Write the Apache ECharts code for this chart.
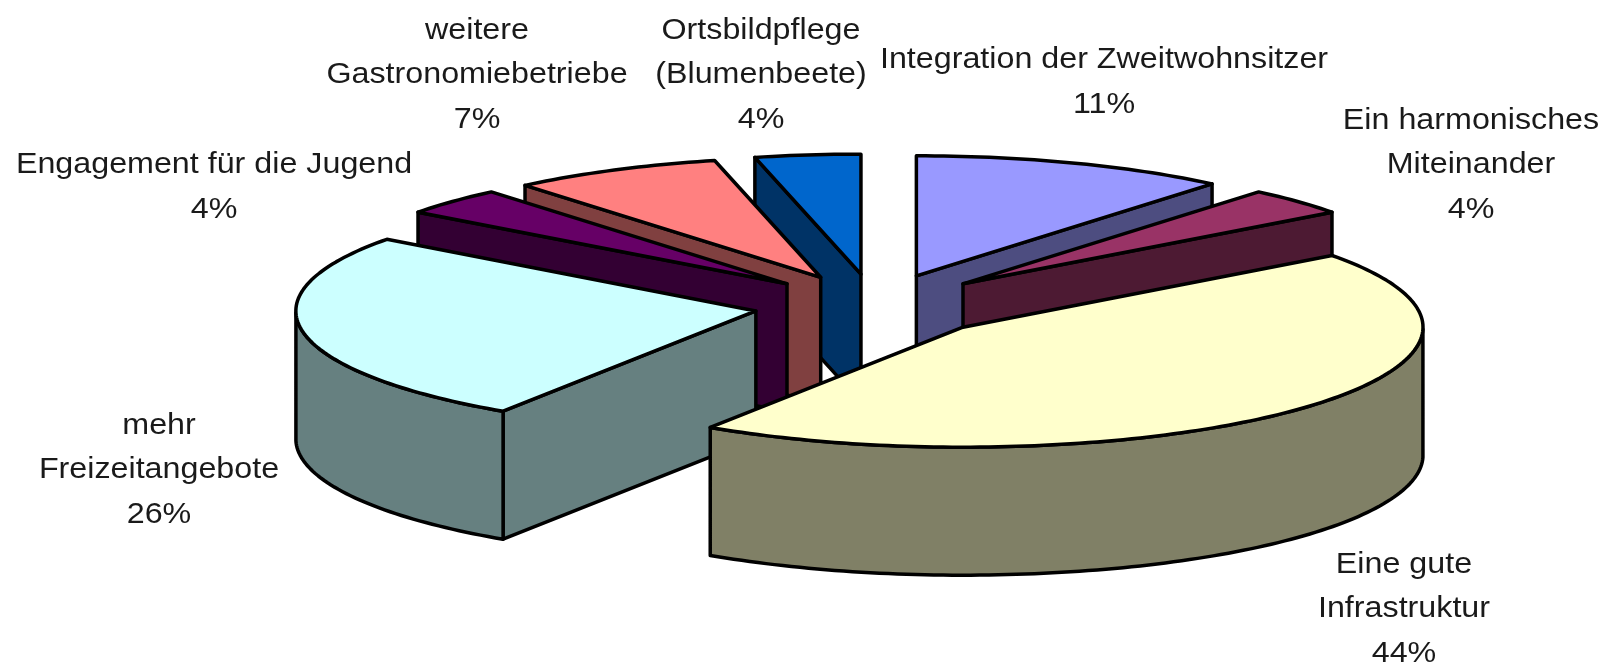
<!DOCTYPE html>
<html><head><meta charset="utf-8">
<style>html,body{margin:0;padding:0;background:#fff}#c{width:1610px;height:667px}</style>
<script src="https://cdn.jsdelivr.net/npm/echarts@6/dist/echarts.min.js"></script>
</head><body><div id="c"></div>
<script>
// Data, in pie order, clockwise from the top (estimated shares; labels show them rounded)
const categories = ['Integration der Zweitwohnsitzer','Ein harmonisches\nMiteinander','Eine gute\nInfrastruktur','mehr\nFreizeitangebote','Engagement für die Jugend','weitere\nGastronomiebetriebe','Ortsbildpflege\n(Blumenbeete)'];
const values = [11.1,3.7,44.4,25.9,3.7,7.4,3.7];
const topColors = ['#9999FF','#993366','#FFFFCC','#CCFFFF','#660066','#FF8080','#0066CC'];
const sideColors = ['#4D4D80','#4D1A33','#808066','#668080','#330033','#804040','#003366'];
// Back-to-front paint order
const paintOrder = [0,1,6,5,4,3,2];
// Label anchors in pixels, by category
const labelX = [1104,1471,1404,159,214,477,761];
const labelY = [82,165,609,470,187,75,75];

const CX=875, CY=305.5, RX=460, RY=120, EXPLODE=0.263, DEPTH=128/120;
const total = values.reduce((a,b)=>a+b,0);
const starts = []; let acc=0;
values.forEach(v=>{starts.push(acc); acc+=v;});
const data = paintOrder.map(i=>[i,starts[i],values[i]]);

function renderSlice(params, api){
  const i=api.value(0);
  const t0=-Math.PI/2+api.value(1)/total*2*Math.PI;
  const t1=t0+api.value(2)/total*2*Math.PI;
  const mid=(t0+t1)/2;
  const ax=EXPLODE*Math.cos(mid), ay=EXPLODE*Math.sin(mid);
  const P=(u,v)=>api.coord([u,v]);
  const rim=t=>[ax+Math.cos(t),ay+Math.sin(t)];
  const arc=[]; const n=Math.max(2,Math.ceil((t1-t0)/0.02));
  for(let k=0;k<=n;k++) arc.push(t0+(t1-t0)*k/n);
  const stroke={stroke:'#000',lineWidth:3.5,lineJoin:'round'};
  const poly=(pts,fill)=>({type:'polygon',shape:{points:pts.map(p=>P(p[0],p[1]))},style:Object.assign({fill:fill},stroke)});
  const children=[];
  const face=t=>{const r=rim(t);return poly([[ax,ay],r,[r[0],r[1]+DEPTH],[ax,ay+DEPTH]],sideColors[i]);};
  if(Math.cos(t0)<-1e-6) children.push(face(t0));
  if(Math.cos(t1)>1e-6) children.push(face(t1));
  const front=arc.filter(t=>Math.sin(t)>=0);
  if(front.length>1){
    const up=front.map(rim);
    const down=up.map(r=>[r[0],r[1]+DEPTH]).reverse();
    children.push(poly(up.concat(down),sideColors[i]));
  }
  children.push(poly([[ax,ay]].concat(arc.map(rim)),topColors[i]));
  return {type:'group',children:children};
}

const labels = categories.map((c,i)=>({
  type:'text',x:labelX[i],y:labelY[i],scaleX:1.075,
  style:{text:c+'\n'+Math.round(values[i])+'%',fill:'#1a1a1a',font:'30px "Liberation Sans"',textAlign:'center',textVerticalAlign:'middle',lineHeight:44.5}
}));

const chart=echarts.init(document.getElementById('c'),null,{renderer:'canvas'});
chart.setOption({
  animation:false,backgroundColor:'#fff',
  grid:{left:CX-RX,top:CY-RY,width:2*RX,height:2*RY,containLabel:false},
  xAxis:{type:'value',min:-1,max:1,show:false},
  yAxis:{type:'value',min:-1,max:1,inverse:true,show:false},
  series:[{type:'custom',coordinateSystem:'cartesian2d',renderItem:renderSlice,data:data,encode:{x:1,y:2},silent:true,clip:false}],
  graphic:labels
});
</script></body></html>
